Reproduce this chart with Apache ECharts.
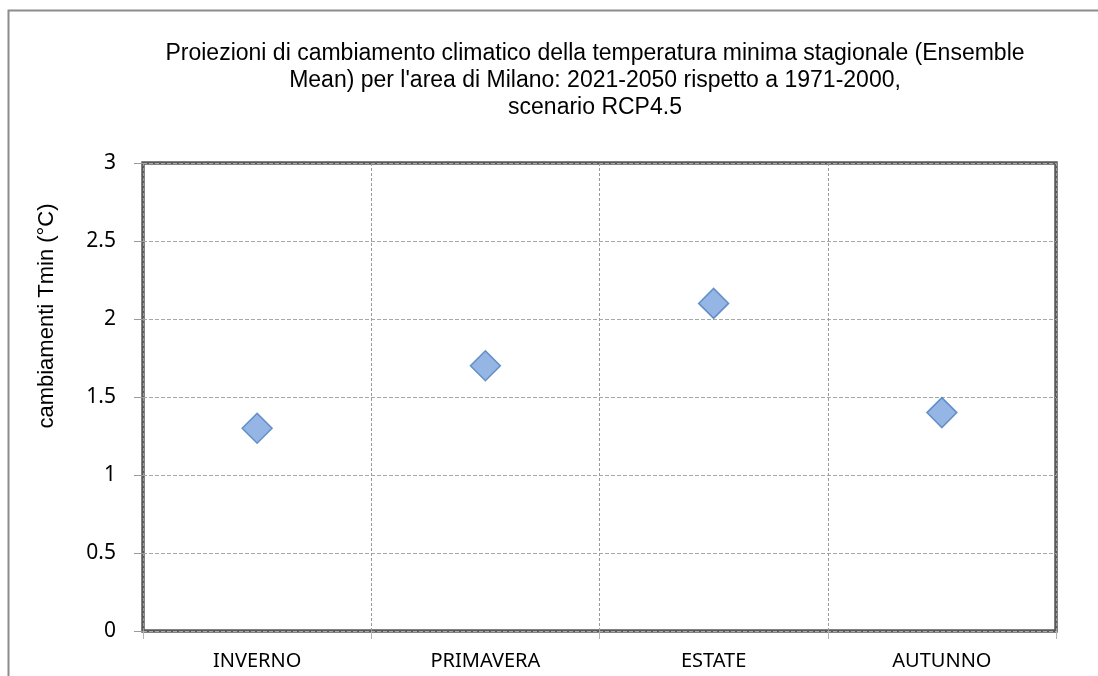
<!DOCTYPE html>
<html>
<head>
<meta charset="utf-8">
<script src="https://cdn.jsdelivr.net/npm/echarts@6/dist/echarts.min.js"></script>
<style>
  html, body { margin: 0; padding: 0; background: #fff; }
  #chart { width: 1098px; height: 676px; }
</style>
</head>
<body>
<div id="chart"></div>
<script>
// seasons and ensemble-mean change of Tmin (°C)
var seasons = ['INVERNO', 'PRIMAVERA', 'ESTATE', 'AUTUNNO'];
var tminChange = [1.3, 1.7, 2.1, 1.4];
var yTicks = [0, 0.5, 1, 1.5, 2, 2.5, 3];

var titleLines = [
    'Proiezioni di cambiamento climatico della temperatura minima stagionale (Ensemble',
    'Mean) per l\'area di Milano: 2021-2050 rispetto a 1971-2000,',
    'scenario RCP4.5'
];
var yName = 'cambiamenti Tmin (°C)';

var chart = echarts.init(document.getElementById('chart'));

var option = {
    backgroundColor: '#fff',
    animation: false,
    title: {
        text: titleLines.join('\n'),
        left: 590,
        top: 35,
        textAlign: 'center',
        textStyle: {
            fontFamily: 'Liberation Sans',
            fontSize: 23,
            fontWeight: 'normal',
            color: '#000',
            lineHeight: 27
        }
    },
    graphic: [
        {
            type: 'rect',
            shape: { x: 8.5, y: 10.5, width: 1200, height: 800 },
            style: { fill: 'none', stroke: '#8c8c8c', lineWidth: 2 },
            silent: true
        },
        {
            type: 'text',
            x: 47,
            y: 316,
            rotation: Math.PI / 2,
            style: {
                text: yName,
                fontFamily: 'Liberation Sans',
                fontSize: 22,
                fill: '#000',
                align: 'center',
                verticalAlign: 'middle'
            }
        }
    ],
    grid: {
        left: 143,
        top: 163,
        right: 42,
        bottom: 45,
        show: true,
        borderColor: '#5a5a5a',
        borderWidth: 3.5,
        backgroundColor: '#fff'
    },
    xAxis: {
        type: 'category',
        data: seasons,
        boundaryGap: true,
        axisLine: { show: false },
        axisTick: {
            show: true,
            length: 8,
            alignWithLabel: false,
            lineStyle: { color: '#b4b4b4', width: 1 }
        },
        axisLabel: {
            margin: 20,
            fontFamily: 'Noto Sans',
            fontSize: 20,
            color: '#000'
        },
        splitLine: {
            show: true,
            lineStyle: { color: '#9a9a9a', type: [3, 2], width: 1 }
        }
    },
    yAxis: {
        type: 'value',
        min: 0,
        max: 3,
        interval: 0.5,
        axisLine: { show: false },
        axisTick: {
            show: true,
            length: 9,
            lineStyle: { color: '#9a9a9a', width: 1 }
        },
        axisLabel: {
            margin: 27,
            fontFamily: 'Noto Sans',
            fontSize: 21,
            color: '#000',
            formatter: function (v) {
                return yTicks.indexOf(v) >= 0 ? String(v) : '';
            }
        },
        splitLine: {
            show: true,
            lineStyle: { color: '#a8a8a8', type: [4, 2], width: 1 }
        }
    },
    series: [
        {
            type: 'scatter',
            data: tminChange,
            symbol: 'diamond',
            symbolSize: 30,
            itemStyle: {
                color: '#7aa3df',
                borderColor: '#4a7ebb',
                borderWidth: 1.5
            }
        }
    ]
};

chart.setOption(option);
</script>
</body>
</html>
